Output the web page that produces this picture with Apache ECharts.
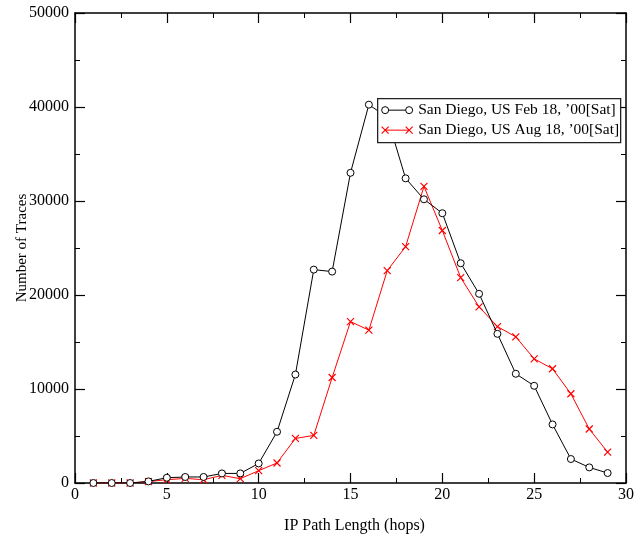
<!DOCTYPE html>
<html>
<head>
<meta charset="utf-8">
<script src="https://cdn.jsdelivr.net/npm/echarts@6/dist/echarts.min.js"></script>
<style>
  html, body { margin: 0; padding: 0; background: #fff; }
  #chart { width: 640px; height: 539px; }
</style>
</head>
<body>
<div id="chart"></div>
<script>
// Hop counts (IP path length)
const hops = [1, 2, 3, 4, 5, 6, 7, 8, 9, 10, 11, 12, 13, 14, 15, 16, 17, 18, 19, 20, 21, 22, 23, 24, 25, 26, 27, 28, 29];
// Number of traces per hop count, San Diego, Feb 18 2000
const febTraces = [0, 0, 0, 170, 560, 640, 640, 1020, 1020, 2080, 5450, 11540, 22700, 22490, 33000, 40250, 38900, 32410, 30180, 28700, 23380, 20130, 15870, 11620, 10340, 6230, 2550, 1660, 1060];
// Number of traces per hop count, San Diego, Aug 18 2000
const augTraces = [0, 0, 0, 150, 350, 490, 350, 810, 460, 1310, 2130, 4740, 5060, 11220, 17170, 16260, 22590, 25140, 31550, 26860, 21850, 18740, 16640, 15550, 13210, 12150, 9490, 5740, 3290];
const seriesNames = ['San Diego, US Feb 18, \u201900[Sat]', 'San Diego, US Aug 18, \u201900[Sat]'];

const FONT = 'Liberation Serif';
const crossPath = 'path://M0,0L10,10M10,0L0,10';

const pairs = (ys) => hops.map((h, i) => [h, ys[i]]);

const chart = echarts.init(document.getElementById('chart'), null, { renderer: 'canvas' });

// Shared frame style: black lines, inward major and minor ticks
const baseAxis = () => ({
  axisLine: { show: true, onZero: false, lineStyle: { color: '#000', width: 1.5 } },
  axisTick: { show: true, inside: true, length: 10, lineStyle: { color: '#000', width: 1.2 } },
  minorTick: { show: true, splitNumber: 2, length: 5, lineStyle: { color: '#000', width: 1 } },
  splitLine: { show: false },
  minorSplitLine: { show: false }
});

const legendZ = 100;
const lz = (el) => Object.assign(el, { z: legendZ });
const legendFont = '15.5px "Liberation Serif"';

chart.setOption({
  animation: false,
  backgroundColor: '#fff',
  grid: { left: 75, right: 14, top: 13, bottom: 56, containLabel: false, outerBoundsMode: 'none' },
  xAxis: [
    Object.assign(baseAxis(), {
      type: 'value', min: 0, max: 30, interval: 5, position: 'bottom',
      name: 'IP Path Length (hops)', nameLocation: 'middle', nameGap: 35, nameMoveOverlap: false,
      nameTextStyle: { fontFamily: FONT, fontSize: 16, color: '#000', padding: [0, 0, 0, 8] },
      axisLabel: { fontFamily: FONT, fontSize: 16, color: '#000', margin: 4 }
    }),
    Object.assign(baseAxis(), {
      type: 'value', min: 0, max: 30, interval: 5, position: 'top',
      axisLabel: { show: false }
    })
  ],
  yAxis: [
    Object.assign(baseAxis(), {
      type: 'value', min: 0, max: 50000, interval: 10000, position: 'left',
      name: 'Number of Traces', nameLocation: 'middle', nameGap: 45, nameMoveOverlap: false,
      nameTextStyle: { fontFamily: FONT, fontSize: 15, color: '#000' },
      axisLabel: { fontFamily: FONT, fontSize: 16, color: '#000', margin: 6, formatter: (v) => String(v) }
    }),
    Object.assign(baseAxis(), {
      type: 'value', min: 0, max: 50000, interval: 10000, position: 'right',
      axisLabel: { show: false }
    })
  ],
  series: [
    {
      name: seriesNames[0], type: 'line', data: pairs(febTraces),
      symbol: 'circle', symbolSize: 7, showAllSymbol: true,
      lineStyle: { color: '#000', width: 1 },
      itemStyle: { color: '#fff', borderColor: '#000', borderWidth: 1 },
      z: 3
    },
    {
      name: seriesNames[1], type: 'line', data: pairs(augTraces),
      symbol: crossPath, symbolSize: 7, showAllSymbol: true,
      lineStyle: { color: '#ff0000', width: 1 },
      itemStyle: { color: '#ff0000', borderColor: '#ff0000', borderWidth: 1.2 },
      z: 2
    }
  ],
  graphic: [
    {
      type: 'group', left: 377, top: 98, z: legendZ,
      children: [
        lz({ type: 'rect', shape: { x: 0.5, y: 0.5, width: 243, height: 44 },
          style: { fill: '#fff', stroke: '#222', lineWidth: 1.3 } }),
        lz({ type: 'line', shape: { x1: 8, y1: 12, x2: 32, y2: 12 }, style: { stroke: '#000', lineWidth: 1 } }),
        lz({ type: 'circle', shape: { cx: 8, cy: 12, r: 3.5 }, style: { fill: '#fff', stroke: '#000', lineWidth: 1 } }),
        lz({ type: 'circle', shape: { cx: 32, cy: 12, r: 3.5 }, style: { fill: '#fff', stroke: '#000', lineWidth: 1 } }),
        lz({ type: 'text', x: 41, y: 12, style: { text: seriesNames[0], font: legendFont, fill: '#000', verticalAlign: 'middle' } }),
        lz({ type: 'line', shape: { x1: 8, y1: 32, x2: 32, y2: 32 }, style: { stroke: '#ff0000', lineWidth: 1 } }),
        lz({ type: 'polyline', shape: { points: [[4.5, 28.5], [11.5, 35.5]] }, style: { stroke: '#ff0000', lineWidth: 1.2, fill: null } }),
        lz({ type: 'polyline', shape: { points: [[11.5, 28.5], [4.5, 35.5]] }, style: { stroke: '#ff0000', lineWidth: 1.2, fill: null } }),
        lz({ type: 'polyline', shape: { points: [[28.5, 28.5], [35.5, 35.5]] }, style: { stroke: '#ff0000', lineWidth: 1.2, fill: null } }),
        lz({ type: 'polyline', shape: { points: [[35.5, 28.5], [28.5, 35.5]] }, style: { stroke: '#ff0000', lineWidth: 1.2, fill: null } }),
        lz({ type: 'text', x: 41, y: 32, style: { text: seriesNames[1], font: legendFont, fill: '#000', verticalAlign: 'middle' } })
      ]
    }
  ]
});
</script>
</body>
</html>
